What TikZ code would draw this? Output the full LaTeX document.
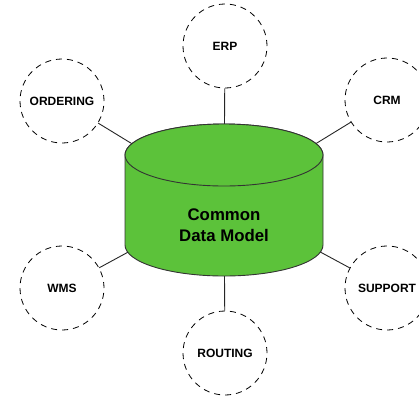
\documentclass[tikz,border=0pt]{standalone}
\usepackage{fontspec}
\setmainfont{Liberation Sans}
\definecolor{cdmgreen}{HTML}{5CC23A}
\definecolor{edgegray}{HTML}{333333}
\begin{document}
\begin{tikzpicture}[x=1pt,y=-1pt,
  system/.style={circle,draw=black,dashed,dash pattern=on 6pt off 5pt,line width=0.8pt,
    minimum size=84pt,inner sep=0pt,font=\fontsize{12}{14}\selectfont\bfseries},
  link/.style={draw=black!85,line width=0.9pt},
  dbface/.style={fill=cdmgreen,draw=edgegray,line width=0.9pt}]
\useasboundingbox (0,0) rectangle (419,400);
% centre of the data store
\coordinate (cdm) at (224,200);
% surrounding systems
\node[system] (erp) at (225,46) {ERP};
\node[system] (ordering) at (62,101) {ORDERING};
\node[system] (crm) at (387,100) {CRM};
\node[system] (wms) at (62,288) {WMS};
\node[system] (support) at (387,288) {SUPPORT};
\node[system] (routing) at (225,353) {ROUTING};
% connectors, hidden under the cylinder body
\foreach \s in {erp,ordering,crm,wms,support,routing}
  \draw[link] (\s) -- (cdm);
% cylinder body
\path[dbface] (125,155) -- (125,245) arc[start angle=180,end angle=0,x radius=99,y radius=31]
  -- (323,155) arc[start angle=0,end angle=-180,x radius=99,y radius=31] -- cycle;
\path[dbface] (224,155) ellipse[x radius=99,y radius=31];
\node[font=\fontsize{16.8}{21}\selectfont\bfseries,align=center] (cdmlabel) at (224,225)
  {Common\\Data Model};
\end{tikzpicture}
\end{document}
